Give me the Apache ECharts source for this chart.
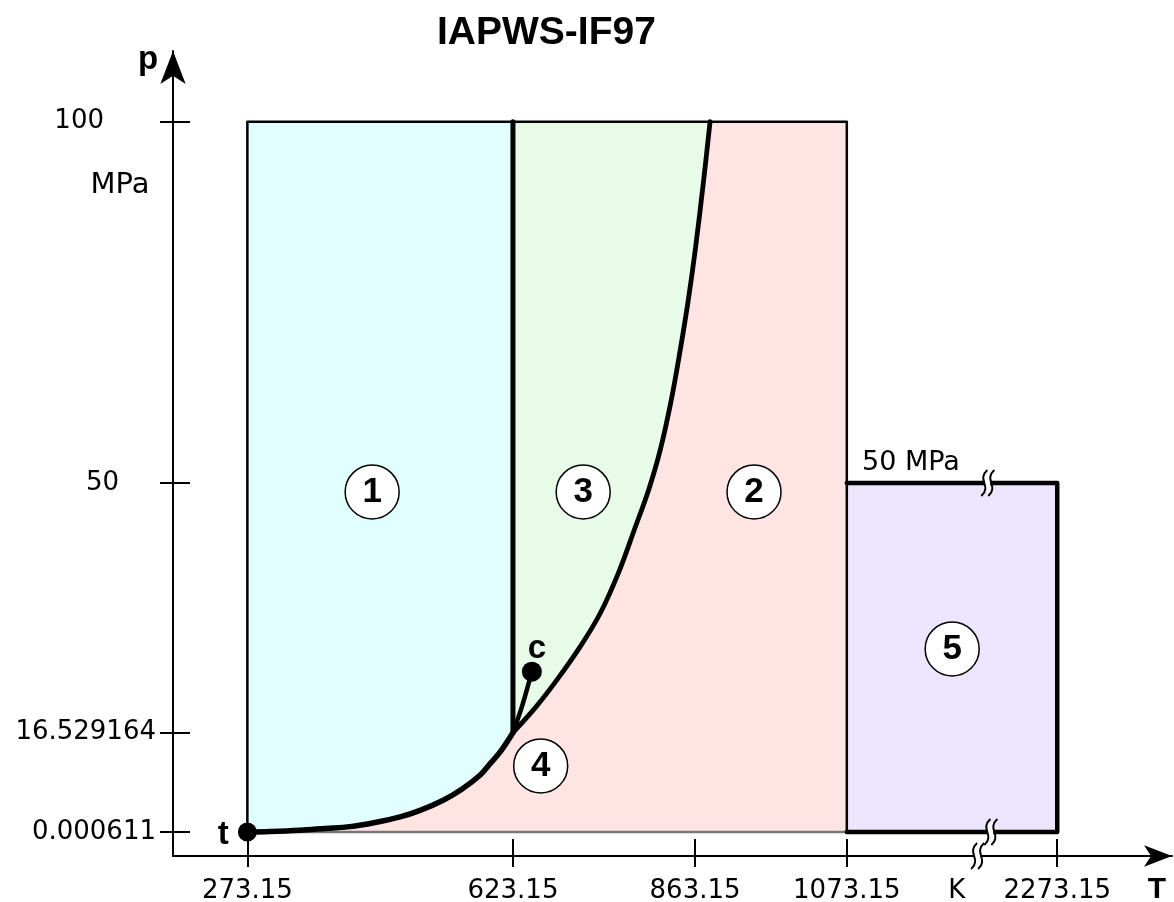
<!DOCTYPE html>
<html><head><meta charset="utf-8">
<script src="https://cdn.jsdelivr.net/npm/echarts@6/dist/echarts.min.js"></script>
<style>html,body{margin:0;padding:0;background:#fff}#c{width:1174px;height:902px}</style>
</head><body><div id="c"></div>
<script>
// ---------- data ----------
const chartTitle = 'IAPWS-IF97';
const xTickValues = [273.15, 623.15, 863.15, 1073.15, 2273.15];
const xUnitValue = 1218;            // where the unit "K" sits on the T axis
const xUnitText = 'K';
const yTickValues = [0.000611, 16.529164, 50, 100];

const T_TRIPLE = 273.15, P_TRIPLE = 0.000611;
const T_13 = 623.15, P_13 = 16.529164;
const T_25 = 1073.15, T_MAX5 = 2273.15;
const P_MAX = 100, P_MAX5 = 50;

// saturation line ps(T), triple point -> 623.15 K
const satT = [273.15, 303.1, 342.6, 375.6, 408.5, 441.5, 474.5, 500.8, 531.2, 556.2, 580.0, 593.1, 606.3, 623.15];
const satP = [0.000611, 0.068, 0.24, 0.48, 0.72, 1.28, 2.04, 3.23, 5.08, 7.15, 9.71, 11.8, 13.93, 16.529164];

// saturation line continued to the critical point
const critT = [623.15, 635.0, 648.1];
const critP = [16.529164, 20.02, 24.71];

// B23 boundary pB23 = f(T)
const b23T = [623.15, 653.8, 681.1, 711.8, 738.2, 762.9, 783.0, 801.95, 817.3, 831.8, 843.6, 854.2, 863.4, 874.5, 882.9];
const b23P = [16.529164, 20.02, 23.6, 28.06, 32.54, 38.13, 43.7, 49.07, 54.43, 61.19, 68.26, 75.33, 82.4, 92.19, 100];

// circled region numbers
const regionNames = ['1', '3', '2', '5', '4'];
const regionLabelT = [437.6, 715.7, 944, 1212, 659.7];
const regionLabelP = [48.8, 48.8, 48.8, 27.75, 11.36];

// special points
const pointNames = ['c', 't'];
const pointT = [648.1, 273.15];
const pointP = [24.71, 0.000611];

// axis break marks (T, p)
const breakMarkT = [2181, 2185, 1505];
const breakMarkP = [50, 0.000611, -3.216];

// ---------- build ----------
const zip = (a, b) => a.map((v, i) => [v, b[i]]);
const sat = zip(satT, satP);
const crit = zip(critT, critP);
const b23 = zip(b23T, b23P);

const region1 = [[T_TRIPLE, P_MAX], [T_13, P_MAX]].concat(sat.slice().reverse());
const region3 = [[T_13, P_MAX]].concat(b23);
const region2 = sat.concat(b23.slice(1)).concat([[T_25, P_MAX], [T_25, P_TRIPLE]]);
const region5 = [[T_25, P_TRIPLE], [T_25, P_MAX5], [T_MAX5, P_MAX5], [T_MAX5, P_TRIPLE]];

const FONT = 'DejaVu Sans';
const BOLD = 'Liberation Sans';

function polySeries(points, color) {
  return {
    type: 'custom', coordinateSystem: 'cartesian2d', silent: true, clip: false, z: 1,
    data: [points[0]],
    renderItem: (params, api) => ({
      type: 'polygon',
      shape: { points: points.map(p => api.coord(p)) },
      style: { fill: color, stroke: null }
    })
  };
}
function lineSeries(data, width, color, smooth) {
  return {
    type: 'line', data, showSymbol: false, symbol: 'none', smooth: smooth || false,
    lineStyle: { width, color: color || '#000', cap: 'round', join: 'round' },
    silent: true, z: 3, clip: false
  };
}

const X_MIN = 175.15, X_MAX = 2424.4, Y_MIN = -3.216, Y_MAX = 109.48;
const xBase = {
  type: 'value', min: X_MIN, max: X_MAX,
  breaks: [{ start: 900, end: 1040, gap: 130 }, { start: 1240, end: 2180, gap: 17.3 }],
  breakArea: { show: false },
  splitLine: { show: false }, position: 'bottom', offset: 0
};
const yBase = {
  type: 'value', min: Y_MIN, max: Y_MAX,
  breaks: [{ start: 2, end: 14, gap: 8.783 }, { start: 60, end: 90, gap: 28.43 }],
  breakArea: { show: false },
  splitLine: { show: false }, position: 'left', offset: 0
};

const yRich = {
  n: { fontSize: 26, fontFamily: FONT, color: '#000' },
  a: { fontSize: 26, fontFamily: FONT, color: '#000', padding: [0, 52, 0, 0] },
  b: { fontSize: 26, fontFamily: FONT, color: '#000', padding: [0, 37, 0, 0] }
};

const option = {
  animation: false,
  textStyle: { fontFamily: FONT },
  title: {
    text: chartTitle, left: 437, top: 14, padding: 0,
    textStyle: { fontFamily: BOLD, fontWeight: 'bold', fontSize: 39, color: '#000' }
  },
  grid: { left: 173, right: 2, top: 51, bottom: 46, containLabel: false, outerBoundsMode: 'none' },
  xAxis: [
    Object.assign({}, xBase, {
      axisLine: { show: false, onZero: false },
      axisTick: { show: true, customValues: xTickValues, length: 11, lineStyle: { color: '#000', width: 2 } },
      axisLabel: {
        show: true, customValues: xTickValues.concat([xUnitValue]), margin: 22,
        fontSize: 26, fontFamily: FONT, color: '#000',
        formatter: v => Math.abs(v - xUnitValue) < 1e-6 ? xUnitText : v.toFixed(2)
      }
    }),
    Object.assign({}, xBase, {
      axisLine: { show: false, onZero: false },
      axisTick: { show: true, inside: true, customValues: xTickValues, length: 17, lineStyle: { color: '#000', width: 2 } },
      axisLabel: { show: false }
    }),
    { // continuous axis line with arrow
      type: 'value', min: 0, max: 1, position: 'bottom', offset: 0, splitLine: { show: false },
      axisLine: { show: true, onZero: false, lineStyle: { color: '#000', width: 2 }, symbol: ['none', 'arrow'], symbolSize: [16, 28] },
      axisTick: { show: false }, axisLabel: { show: false }
    }
  ],
  yAxis: [
    Object.assign({}, yBase, {
      axisLine: { show: false, onZero: false },
      axisTick: { show: true, customValues: yTickValues, length: 13, lineStyle: { color: '#000', width: 2 } },
      axisLabel: {
        show: true, customValues: yTickValues, margin: 17, fontSize: 26, fontFamily: FONT, color: '#000',
        formatter: v => {
          const s = String(+v.toPrecision(8));
          if (s === '100') return '{a|' + s + '}';
          if (s === '50') return '{b|' + s + '}';
          return '{n|' + s + '}';
        },
        rich: yRich
      }
    }),
    Object.assign({}, yBase, {
      axisLine: { show: false, onZero: false },
      axisTick: { show: true, inside: true, customValues: yTickValues, length: 17, lineStyle: { color: '#000', width: 2 } },
      axisLabel: { show: false }
    }),
    {
      type: 'value', min: 0, max: 1, position: 'left', offset: 0, splitLine: { show: false },
      axisLine: { show: true, onZero: false, lineStyle: { color: '#000', width: 2 }, symbol: ['none', 'arrow'], symbolSize: [19, 33] },
      axisTick: { show: false }, axisLabel: { show: false }
    }
  ],
  series: [
    polySeries(region1, '#E1FFFF'),
    polySeries(region3, '#E8FBE8'),
    polySeries(region2, '#FFE4E4'),
    polySeries(region5, '#EDE5FD'),
    // thin outer edges
    lineSeries([[T_TRIPLE, P_TRIPLE], [T_25, P_TRIPLE]], 2.5, '#777'),
    lineSeries([[T_TRIPLE, P_TRIPLE], [T_TRIPLE, P_MAX], [T_25, P_MAX], [T_25, P_TRIPLE]], 2.5, '#000'),
    // region 5 frame
    lineSeries([[T_25, P_MAX5], [T_MAX5, P_MAX5], [T_MAX5, P_TRIPLE], [T_25, P_TRIPLE]], 4.5, '#000'),
    // boundaries
    lineSeries([[T_13, P_13], [T_13, P_MAX]], 5, '#000'),
    lineSeries(b23, 4.8, '#000', 0.35),
    lineSeries(crit, 4.5, '#000', 0.3),
    lineSeries(sat, 5.5, '#000', 0.35),
    // break marks
    {
      type: 'custom', coordinateSystem: 'cartesian2d', silent: true, clip: false, z: 6,
      data: zip(breakMarkT, breakMarkP),
      renderItem: (params, api) => {
        const c = api.coord([api.value(0), api.value(1)]);
        const x = c[0], y = c[1], h = 13;
        const s = dx => ({
          type: 'bezierCurve',
          shape: { x1: x + dx + 3, y1: y - h, cpx1: x + dx - 8, cpy1: y - 3, cpx2: x + dx + 8, cpy2: y + 3, x2: x + dx - 3, y2: y + h },
          style: { stroke: '#000', lineWidth: 2, fill: null }
        });
        return {
          type: 'group', children: [
            { type: 'polygon', shape: { points: [[x - 2, y - h + 4], [x + 4, y - h + 4], [x + 2, y + h - 4], [x - 4, y + h - 4]] }, style: { fill: '#fff' } },
            s(-3), s(4)
          ]
        };
      }
    },
    // circled region numbers
    {
      type: 'scatter', z: 7, silent: true, symbol: 'circle', symbolSize: 54,
      data: regionNames.map((n, i) => ({ name: n, value: [regionLabelT[i], regionLabelP[i]] })),
      itemStyle: { color: '#fff', borderColor: '#000', borderWidth: 1.5, opacity: 1 },
      label: { show: true, position: 'inside', formatter: '{b}', fontFamily: BOLD, fontWeight: 'bold', fontSize: 35, color: '#000' }
    },
    // critical & triple points
    {
      type: 'scatter', z: 8, silent: true, symbol: 'circle', symbolSize: 20,
      data: pointNames.map((n, i) => ({
        name: n, value: [pointT[i], pointP[i]],
        symbolSize: i === 0 ? 20 : 19,
        label: i === 0 ? { position: 'top', offset: [5, 9], distance: 5 } : { position: 'left', distance: 9, offset: [0, 3] }
      })),
      itemStyle: { color: '#000', opacity: 1 },
      label: { show: true, formatter: '{b}', fontFamily: BOLD, fontWeight: 'bold', fontSize: 33, color: '#000' }
    }
  ],
  graphic: [
    { type: 'text', x: 148, y: 60, style: { text: 'p', font: 'bold 33px "Liberation Sans"', fill: '#000', align: 'center', verticalAlign: 'middle' } },
    { type: 'text', x: 120, y: 185, style: { text: 'MPa', font: '29px "DejaVu Sans"', fill: '#000', align: 'center', verticalAlign: 'middle' } },
    { type: 'text', x: 1157, y: 890, style: { text: 'T', font: 'bold 30px "Liberation Sans"', fill: '#000', align: 'center', verticalAlign: 'middle' } },
    { type: 'text', x: 862, y: 463, style: { text: '50 MPa', font: '27px "DejaVu Sans"', fill: '#000', align: 'left', verticalAlign: 'middle' } },
    // pB23 = f(T)
    { type: 'text', x: 534, y: 296, style: { text: 'p', font: '27px "DejaVu Sans"', fill: '#000', align: 'left', verticalAlign: 'middle' } },
    { type: 'text', x: 554, y: 305, style: { text: 'B23', font: '23px "DejaVu Sans"', fill: '#000', align: 'left', verticalAlign: 'middle' } },
    { type: 'text', x: 604, y: 296, style: { text: '=f(T)', font: '28px "DejaVu Sans"', fill: '#000', align: 'left', verticalAlign: 'middle' } },
    { type: 'line', shape: { x1: 607, y1: 313, x2: 680, y2: 351 }, style: { stroke: '#000', lineWidth: 1 } },
    // ps(T)
    { type: 'text', x: 359, y: 752, style: { text: 'p', font: '27px "DejaVu Sans"', fill: '#000', align: 'left', verticalAlign: 'middle' } },
    { type: 'text', x: 376, y: 758, style: { text: 's', font: '22px "DejaVu Sans"', fill: '#000', align: 'left', verticalAlign: 'middle' } },
    { type: 'text', x: 398, y: 752, style: { text: '(T)', font: '28px "DejaVu Sans"', fill: '#000', align: 'left', verticalAlign: 'middle' } },
    { type: 'line', shape: { x1: 400, y1: 768, x2: 445, y2: 800 }, style: { stroke: '#000', lineWidth: 1 } },
    { type: 'line', shape: { x1: 480, y1: 777, x2: 512, y2: 767 }, style: { stroke: '#000', lineWidth: 1 } }
  ]
};

const chart = echarts.init(document.getElementById('c'), null, { renderer: 'canvas' });
chart.setOption(option);
</script>
</body></html>
